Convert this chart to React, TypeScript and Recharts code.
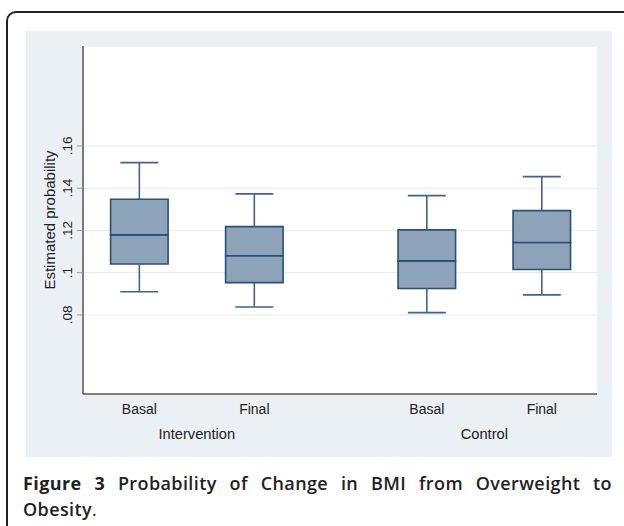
import React from 'react';
import {
  ComposedChart,
  XAxis,
  YAxis,
  CartesianGrid,
  ReferenceArea,
  ReferenceLine,
  Scatter,
  Label,
} from 'recharts';

// ---- data ----
const categories = ['Basal', 'Final', 'Basal', 'Final'];
const positions = [1, 2, 3.5, 4.5];
const whiskerLow = [0.091, 0.0838, 0.0811, 0.0895];
const q1 = [0.1041, 0.0953, 0.0925, 0.1015];
const median = [0.1179, 0.108, 0.1056, 0.1143];
const q3 = [0.1348, 0.1218, 0.1203, 0.1294];
const whiskerHigh = [0.1521, 0.1373, 0.1365, 0.1455];
const groupLabels = ['Intervention', 'Control'];
const groupPositions = [1.5, 4];
const yTicks = [0.08, 0.1, 0.12, 0.14, 0.16];
const yTickLabels = ['.08', '.1', '.12', '.14', '.16'];

const rows = positions.map((p, i) => ({
  x: p,
  label: categories[i],
  low: whiskerLow[i],
  q1: q1[i],
  median: median[i],
  q3: q3[i],
  high: whiskerHigh[i],
}));

const X_DOMAIN: [number, number] = [0.51, 4.98];
const Y_DOMAIN: [number, number] = [0.0426, 0.2073];
const BOX_HALF = 0.25;
const CAP_HALF = 0.165;

const BOX_FILL = '#8ca3b9';
const BOX_STROKE = '#2c4f74';
const WHISK = '#42648a';
const FONT = 'Arial, "Liberation Sans", Helvetica, sans-serif';

const XTick = (props: any) => {
  const { x, y, payload } = props;
  const idx = positions.indexOf(payload.value);
  return (
    <text x={x} y={y + 20} textAnchor="middle" fontSize={14} fill="#222" fontFamily={FONT}>
      {categories[idx]}
    </text>
  );
};

const GroupTick = (props: any) => {
  const { x, y, payload } = props;
  const idx = groupPositions.indexOf(payload.value);
  return (
    <text x={x} y={y + 19} textAnchor="middle" fontSize={14.7} fill="#222" fontFamily={FONT}>
      {groupLabels[idx]}
    </text>
  );
};

const YTick = (props: any) => {
  const { x, y, payload } = props;
  const idx = yTicks.indexOf(payload.value);
  const tx = x - 3;
  return (
    <text
      x={tx}
      y={y}
      transform={`rotate(-90 ${tx} ${y})`}
      textAnchor="middle"
      fontSize={13.5}
      fill="#222"
      fontFamily={FONT}
    >
      {yTickLabels[idx]}
    </text>
  );
};

const YTitle = (props: any) => {
  const vb = props.viewBox || { x: 0, y: 0, width: 0, height: 0 };
  const tx = vb.x + 29;
  const ty = vb.y + vb.height / 2;
  return (
    <text
      x={tx}
      y={ty}
      transform={`rotate(-90 ${tx} ${ty})`}
      textAnchor="middle"
      fontSize={15}
      fill="#222"
      fontFamily={FONT}
    >
      Estimated probability
    </text>
  );
};

export default function App() {
  return (
    <div
      style={{
        position: 'absolute',
        left: 0,
        top: 0,
        width: 624,
        height: 526,
        overflow: 'hidden',
        background: '#fff',
      }}
    >
      <div
        style={{
          position: 'absolute',
          left: 6,
          top: 11,
          width: 640,
          height: 600,
          border: '2px solid #222',
          borderRadius: 10,
          boxSizing: 'border-box',
        }}
      />
      <div
        style={{
          position: 'absolute',
          left: 26,
          top: 31,
          width: 586,
          height: 426,
          background: '#eaf0f3',
        }}
      >
        <ComposedChart
          width={586}
          height={426}
          data={rows}
          margin={{ top: 15, right: 15, left: 0, bottom: 0 }}
        >
          <CartesianGrid vertical={false} stroke="#e4eaee" fill="#ffffff" strokeWidth={1} />
          <XAxis
            dataKey="x"
            type="number"
            domain={X_DOMAIN}
            ticks={positions}
            interval={0}
            tick={<XTick />}
            tickLine={false}
            tickSize={0}
            tickMargin={0}
            axisLine={{ stroke: '#555', strokeWidth: 1.5 }}
            height={26}
            allowDataOverflow
          />
          <XAxis
            xAxisId="group"
            dataKey="x"
            type="number"
            domain={X_DOMAIN}
            ticks={groupPositions}
            interval={0}
            tick={<GroupTick />}
            tickLine={false}
            tickSize={0}
            tickMargin={0}
            axisLine={false}
            height={37}
            allowDataOverflow
          />
          <YAxis
            type="number"
            domain={Y_DOMAIN}
            ticks={yTicks}
            interval={0}
            width={57}
            tick={<YTick />}
            tickSize={6}
            tickLine={{ stroke: '#999' }}
            axisLine={{ stroke: '#555', strokeWidth: 1.5 }}
            allowDataOverflow
          >
            <Label content={<YTitle />} />
          </YAxis>
          <Scatter dataKey="median" isAnimationActive={false} shape={() => <g />} />
          {rows.map((r) => (
            <ReferenceLine
              key={`wl-${r.x}`}
              segment={[
                { x: r.x, y: r.low },
                { x: r.x, y: r.q1 },
              ]}
              stroke={WHISK}
              strokeWidth={1.6}
            />
          ))}
          {rows.map((r) => (
            <ReferenceLine
              key={`wh-${r.x}`}
              segment={[
                { x: r.x, y: r.q3 },
                { x: r.x, y: r.high },
              ]}
              stroke={WHISK}
              strokeWidth={1.6}
            />
          ))}
          {rows.map((r) => (
            <ReferenceLine
              key={`cl-${r.x}`}
              segment={[
                { x: r.x - CAP_HALF, y: r.low },
                { x: r.x + CAP_HALF, y: r.low },
              ]}
              stroke={WHISK}
              strokeWidth={1.6}
            />
          ))}
          {rows.map((r) => (
            <ReferenceLine
              key={`ch-${r.x}`}
              segment={[
                { x: r.x - CAP_HALF, y: r.high },
                { x: r.x + CAP_HALF, y: r.high },
              ]}
              stroke={WHISK}
              strokeWidth={1.6}
            />
          ))}
          {rows.map((r) => (
            <ReferenceArea
              key={`bl-${r.x}`}
              x1={r.x - BOX_HALF}
              x2={r.x + BOX_HALF}
              y1={r.q1}
              y2={r.median}
              fill={BOX_FILL}
              fillOpacity={1}
              stroke={BOX_STROKE}
              strokeWidth={1.6}
            />
          ))}
          {rows.map((r) => (
            <ReferenceArea
              key={`bu-${r.x}`}
              x1={r.x - BOX_HALF}
              x2={r.x + BOX_HALF}
              y1={r.median}
              y2={r.q3}
              fill={BOX_FILL}
              fillOpacity={1}
              stroke={BOX_STROKE}
              strokeWidth={1.6}
            />
          ))}
        </ComposedChart>
      </div>
      <div
        style={{
          position: 'absolute',
          left: 23,
          top: 470,
          width: 589,
          fontFamily: '"Open Sans", "Noto Sans", sans-serif',
          fontSize: 18,
          lineHeight: '26px',
          letterSpacing: '0.4px',
          color: '#222',
          fontWeight: 600,
        }}
      >
        <div style={{ textAlign: 'justify', textAlignLast: 'justify', whiteSpace: 'nowrap' as any }}>
          <span style={{ fontWeight: 700 }}>Figure 3</span> Probability of Change in BMI from Overweight to
        </div>
        <div>
          Obesity<span style={{ fontWeight: 400 }}>.</span>
        </div>
      </div>
    </div>
  );
}
